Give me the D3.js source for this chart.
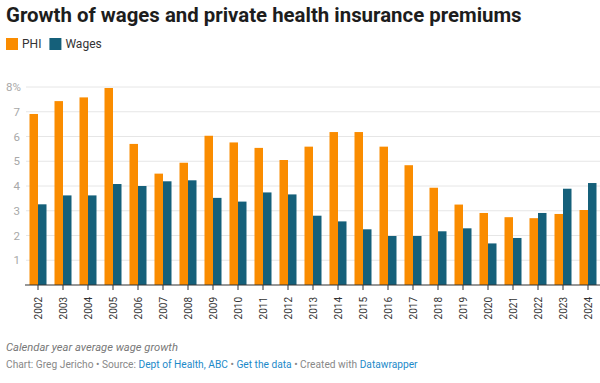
<!DOCTYPE html>
<html><head><meta charset="utf-8">
<script src="https://cdn.jsdelivr.net/npm/d3@7"></script>
<style>
body{margin:0;background:#fff;font-family:Roboto,"Noto Sans",sans-serif;}
svg{display:block}
</style></head>
<body>
<svg id="c" width="600" height="383"></svg>
<script>
const years = ["2002","2003","2004","2005","2006","2007","2008","2009","2010","2011","2012","2013","2014","2015","2016","2017","2018","2019","2020","2021","2022","2023","2024"];
const phi = [6.91,7.43,7.58,7.96,5.70,4.50,4.94,6.03,5.76,5.54,5.05,5.59,6.18,6.18,5.59,4.84,3.93,3.25,2.91,2.74,2.70,2.87,3.03];
const wages = [3.26,3.62,3.62,4.08,4.00,4.19,4.23,3.52,3.37,3.74,3.66,2.80,2.57,2.25,1.98,1.98,2.17,2.29,1.68,1.90,2.91,3.89,4.12];
const seriesNames = ["PHI","Wages"];
const colors = ["#fa8c00","#15607a"];
const yTicks = [1,2,3,4,5,6,7,8];

const svg = d3.select("#c");
const x = d3.scaleBand().domain(years).range([25.5,600.5]).paddingInner(0.32).paddingOuter(0.16);
const xs = d3.scaleBand().domain(seriesNames).range([0,x.bandwidth()]);
const y = d3.scaleLinear().domain([0,8]).range([285,87]);

// title
svg.append("text").attr("x",6).attr("y",22).attr("font-size",20.4).attr("font-weight",700)
  .attr("fill","#1d1d1d").text("Growth of wages and private health insurance premiums");

// legend
const lg = svg.append("g");
let lx = 6;
seriesNames.forEach((n,i)=>{
  lg.append("rect").attr("x",lx).attr("y",38).attr("width",12).attr("height",12).attr("fill",colors[i]);
  const t = lg.append("text").attr("x",lx+16).attr("y",48).attr("font-size",12).attr("fill","#333").text(n);
  lx += 16 + t.node().getComputedTextLength() + 8;
});

// grid
svg.append("g").selectAll("line").data(yTicks).join("line")
  .attr("x1",26).attr("x2",600).attr("y1",d=>y(d)).attr("y2",d=>y(d))
  .attr("stroke","#e6e6e6").attr("stroke-width",1);
svg.append("g").selectAll("text").data(yTicks).join("text")
  .attr("x",20).attr("y",d=>y(d)+4).attr("text-anchor","end")
  .attr("font-size",11.5).attr("fill","#a8a8a8")
  .text(d=>d===8? "8%" : d)
  .attr("dx",d=>d===8? 1 : 0);

// bars
const data = years.map((yr,i)=>({yr, vals:[phi[i],wages[i]]}));
const g = svg.append("g").selectAll("g").data(data).join("g")
  .attr("transform",d=>`translate(${x(d.yr)},0)`);
g.selectAll("rect").data(d=>d.vals.map((v,i)=>({v,i}))).join("rect")
  .attr("x",d=>xs(seriesNames[d.i])).attr("width",xs.bandwidth())
  .attr("y",d=>y(d.v)).attr("height",d=>y(0)-y(d.v))
  .attr("fill",d=>colors[d.i]);

// x axis
const xa = svg.append("g").attr("transform",`translate(0,${y(0)})`);
xa.append("line").attr("x1",25).attr("x2",600).attr("stroke","#333").attr("stroke-width",1.2);
xa.selectAll("line.t").data(years).join("line").attr("class","t")
  .attr("x1",d=>x(d)+x.bandwidth()/2).attr("x2",d=>x(d)+x.bandwidth()/2)
  .attr("y1",0).attr("y2",5).attr("stroke","#333");
xa.selectAll("text").data(years).join("text")
  .attr("transform",d=>`translate(${x(d)+x.bandwidth()/2+3.5},12) rotate(-90)`)
  .attr("text-anchor","end").attr("font-size",10).attr("fill","#333").text(d=>d);

// footer
svg.append("text").attr("x",6).attr("y",351).attr("font-size",11.2).attr("font-style","italic")
  .attr("fill","#777").text("Calendar year average wage growth");
const f = svg.append("text").attr("x",6).attr("y",368).attr("font-size",10.2).attr("fill","#888");
const parts = [["Chart: Greg Jericho • Source: ","#888"],["Dept of Health, ABC","#1d8ac9"],[" • ","#888"],["Get the data","#1d8ac9"],[" • Created with ","#888"],["Datawrapper","#1d8ac9"]];
parts.forEach(p=>f.append("tspan").attr("fill",p[1]).text(p[0]));
</script>
</body></html>
